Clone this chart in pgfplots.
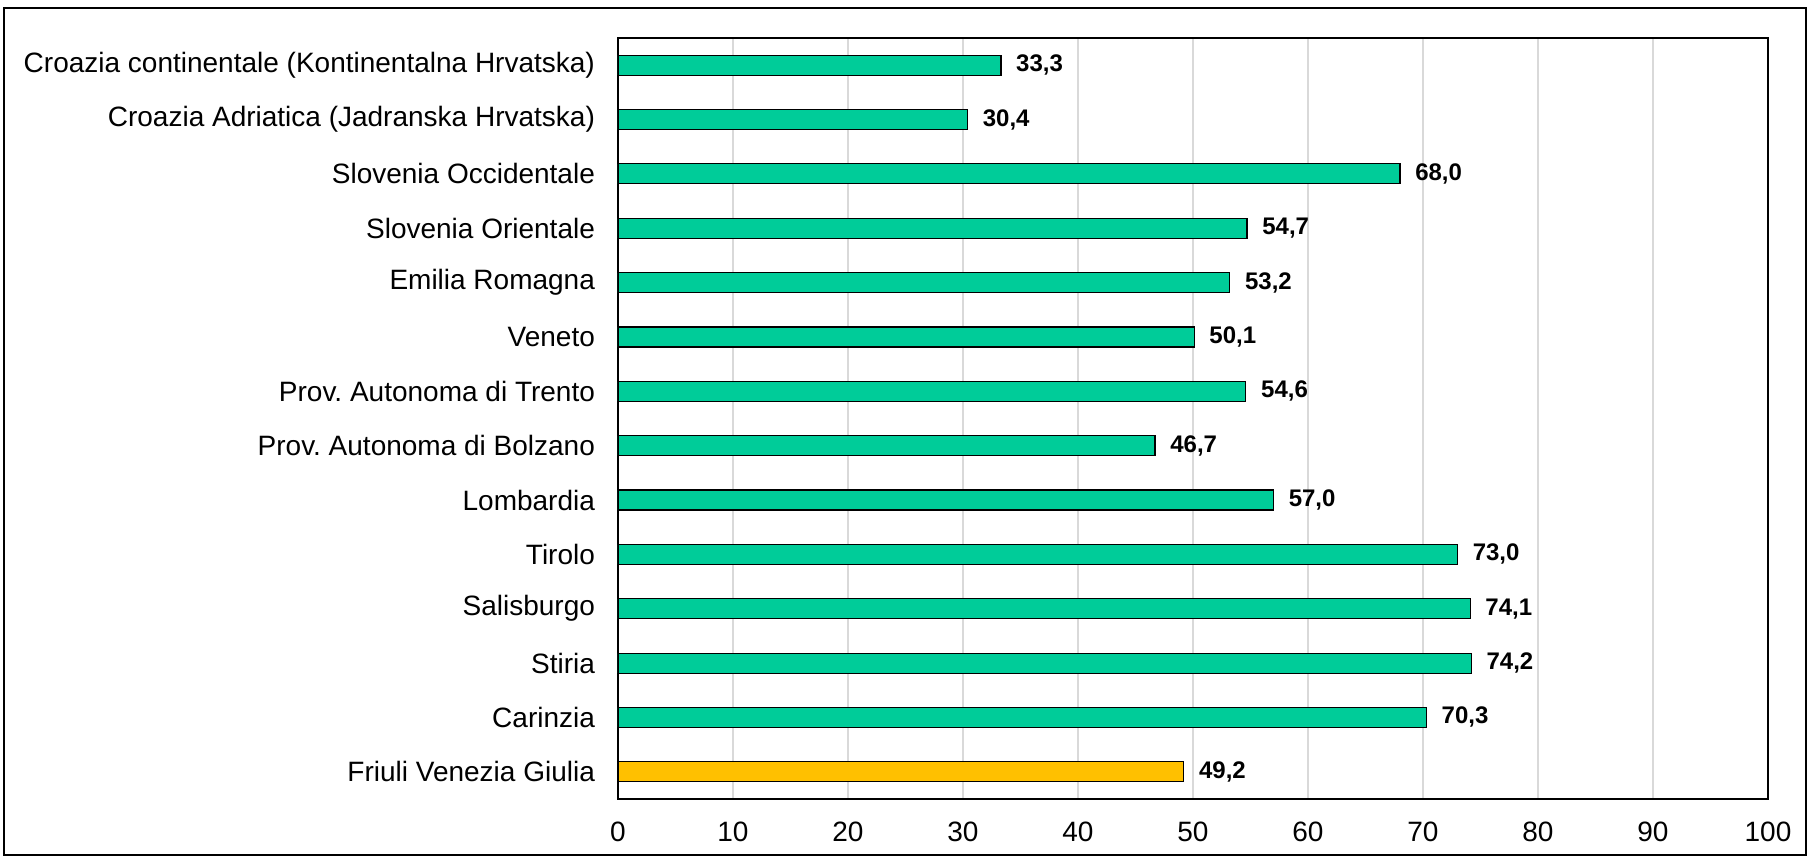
\documentclass[border=0pt]{standalone}
\usepackage{fontspec}
\setmainfont{Liberation Sans}
\usepackage{pgfplots}
\pgfplotsset{compat=1.18}
\definecolor{barg}{RGB}{0,204,153}
\definecolor{bary}{RGB}{255,192,0}
\definecolor{gridc}{RGB}{217,217,217}
\frenchspacing
\begin{document}
\begin{tikzpicture}
\useasboundingbox (-309pt,-29.5pt) rectangle (596pt,399.5pt);
\draw[line width=0.9pt] (-307pt,-28pt) rectangle (594pt,395.5pt);
\begin{axis}[
  at={(0pt,0pt)}, anchor=south west,
  scale only axis,
  width=575pt, height=380.5pt,
  xbar, bar width=10pt, bar shift=0pt,
  xmin=0, xmax=100, ymin=-0.5, ymax=13.5,
  xtick={0,10,...,100},
  ytick={0,...,13},
  yticklabels={Friuli Venezia Giulia, Carinzia, Stiria, Salisburgo, Tirolo, Lombardia, Prov.\ Autonoma di Bolzano, Prov.\ Autonoma di Trento, Veneto, Emilia Romagna, Slovenia Orientale, Slovenia Occidentale, Croazia Adriatica (Jadranska Hrvatska), Croazia continentale (Kontinentalna Hrvatska)},
  major tick length=0pt,
  xmajorgrids, major grid style={gridc, line width=0.7pt},
  axis line style={line width=1pt},
  tick label style={font=\fontsize{14}{16}\selectfont},
  /pgf/number format/assume math mode=true,
  yticklabel style={xshift=-8pt},
  xticklabel style={yshift=-8pt},
  point meta=x,
  nodes near coords={\pgfmathprintnumber[fixed,fixed zerofill,precision=1,use comma]{\pgfplotspointmeta}},
  nodes near coords style={font=\bfseries\fontsize{12}{14}\selectfont, anchor=west, xshift=4pt, text=black},
]
\addplot[fill=barg, draw=black, line width=0.6pt] coordinates {
 (70.3,1) (74.2,2) (74.1,3) (73.0,4) (57.0,5) (46.7,6) (54.6,7) (50.1,8) (53.2,9) (54.7,10) (68.0,11) (30.4,12) (33.3,13)
};
\addplot[fill=bary, draw=black, line width=0.6pt] coordinates {
 (49.2,0)
};
\end{axis}
\end{tikzpicture}
\end{document}
